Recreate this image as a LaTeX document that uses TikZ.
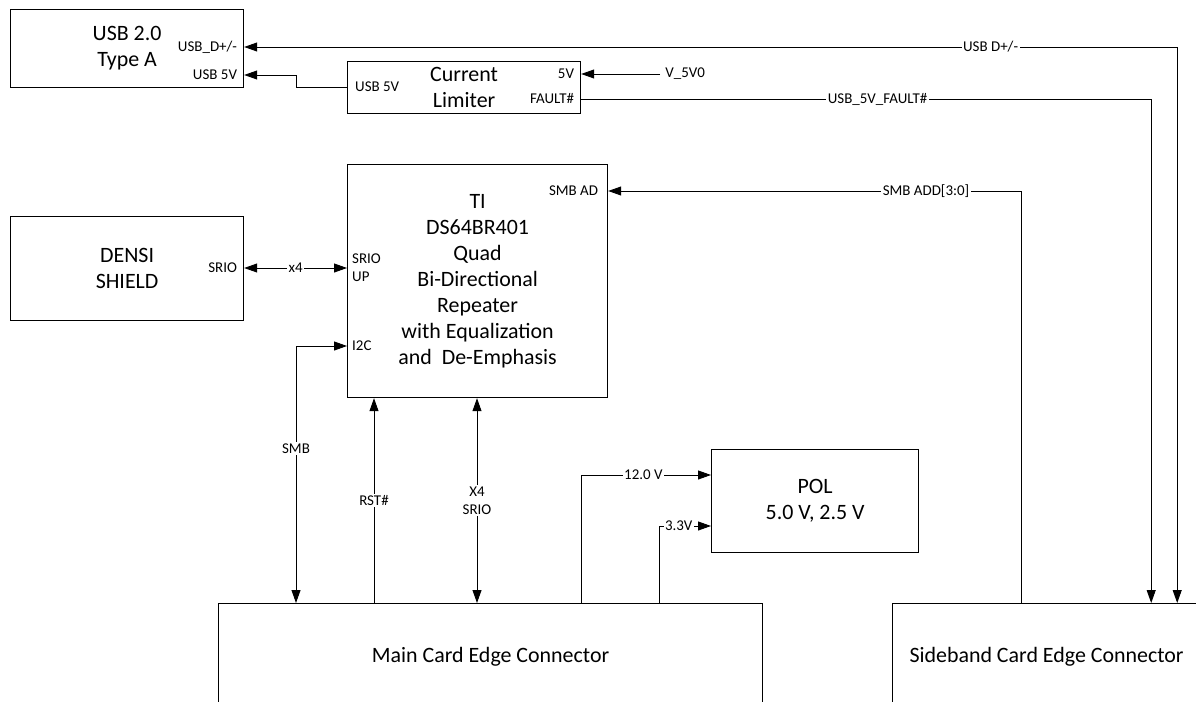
\documentclass[tikz,border=0pt]{standalone}
\usepackage{fontspec}
\setmainfont{Carlito}
\usetikzlibrary{positioning,arrows.meta,calc}
\newcommand{\bigtxt}{\fontsize{22}{26.2}\selectfont}
\newcommand{\pintxt}{\fontsize{15}{18}\selectfont}

\begin{document}
\begin{tikzpicture}[x=1bp, y=-1bp,
  blk/.style={draw, line width=1.2bp, inner sep=0, align=center, font=\bigtxt, anchor=north west},
  pin/.style={font=\pintxt, inner sep=0},
  wire/.style={line width=0.9bp},
  arr/.style={wire, -{Triangle[length=13bp,width=9bp]}},
  biarr/.style={wire, {Triangle[length=13bp,width=9bp]}-{Triangle[length=13bp,width=9bp]}},
  tag/.style={font=\pintxt, fill=white, inner sep=1.5bp, align=center}]
\useasboundingbox (0,0) rectangle (1196,702);
% blocks
\node[blk, minimum width=233bp, minimum height=78bp] (usb) at (10,9) {USB 2.0\\Type A};
\node[blk, minimum width=233bp, minimum height=52bp] (lim) at (347,61) {Current\\Limiter};
\node[blk, minimum width=233bp, minimum height=104bp] (densi) at (10,216) {DENSI\\SHIELD};
\node[blk, minimum width=260bp, minimum height=233bp] (ti) at (347,164)
  {TI\\DS64BR401\\Quad\\Bi-Directional\\Repeater\\with Equalization\\and \ De-Emphasis};
\node[blk, minimum width=207bp, minimum height=103bp] (pol) at (711,449) {POL\\5.0 V, 2.5 V};
\node[blk, minimum width=544bp, minimum height=106bp] (main) at (218,603) {Main Card Edge Connector};
\node[blk, minimum width=308bp, minimum height=106bp] (side) at (892,603) {Sideband Card Edge Connector};
% pin names
\node[pin, anchor=east] (usbD) at ($(usb.north east)+(-7,38)$) {USB\_D+/-};
\node[pin, anchor=east] (usb5) at ($(usb.north east)+(-7,66)$) {USB 5V};
\node[pin, anchor=west] (lim5) at ($(lim.north west)+(8,26)$) {USB 5V};
\node[pin, anchor=east] (limIn) at ($(lim.north east)+(-7,13)$) {5V};
\node[pin, anchor=east] (limFlt) at ($(lim.north east)+(-7,38)$) {FAULT\#};
\node[pin, anchor=west] (vsrc) at ($(lim.north east)+(84,13)$) {V\_5V0};
\node[pin, anchor=east] (densiS) at ($(densi.north east)+(-7,52)$) {SRIO};
\node[pin, anchor=west, align=left] (tiS) at ($(ti.north west)+(5,104)$) {SRIO\\UP};
\node[pin, anchor=west] (tiI2c) at ($(ti.north west)+(5,182)$) {I2C};
\node[pin, anchor=east] (tiSmb) at ($(ti.north east)+(-10,27)$) {SMB AD};
% tap points on the connectors
\coordinate (sideD) at ($(side.north east)+(-24,0)$);
\coordinate (sideF) at ($(side.north east)+(-50,0)$);
\coordinate (sideS) at ($(side.north west)+(129,0)$);
\coordinate (smbX) at ($(main.north west)+(78,0)$);
\coordinate (rstX) at ($(main.north west)+(156,0)$);
\coordinate (srioX) at ($(main.north west)+(259,0)$);
\coordinate (v12X) at ($(main.north west)+(363,0)$);
\coordinate (v33X) at ($(main.north west)+(441,0)$);
\coordinate (pol12) at ($(pol.north west)+(0,26)$);
\coordinate (pol33) at ($(pol.north west)+(0,77)$);
% usb / limiter wiring
\draw[biarr] (usb.east |- usbD) -- node[tag, pos=0.8] {USB D+/-} (sideD |- usbD) -- (sideD);
\draw[arr] (lim.west |- lim5) -- ++(-51,0) |- (usb.east |- usb5);
\draw[arr] ([xshift=-5bp]vsrc.west) -- (lim.east |- limIn);
\draw[arr] (lim.east |- limFlt) -- node[tag, pos=0.52] {USB\_5V\_FAULT\#} (sideF |- limFlt) -- (sideF);
% repeater wiring
\draw[biarr] (densi.east |- densiS) -- node[tag] {x4} (ti.west |- densiS);
\draw[arr] (sideS) -- (sideS |- tiSmb) -- node[tag, pos=0.23] {SMB ADD[3:0]} (ti.east |- tiSmb);
\draw[biarr] (ti.west |- tiI2c) -- (smbX |- tiI2c) -- node[tag, pos=0.4] {SMB} (smbX);
\draw[arr] (rstX) -- node[tag] {RST\#} (rstX |- ti.south);
\draw[biarr] (srioX) -- node[tag] {X4\\SRIO} (srioX |- ti.south);
% power
\draw[arr] (v12X) -- (v12X |- pol12) -- node[tag, pos=0.48] {12.0 V} (pol12);
\draw[arr] (v33X) -- (v33X |- pol33) -- node[tag, pos=0.38] {3.3V} (pol33);
\end{tikzpicture}
\end{document}
